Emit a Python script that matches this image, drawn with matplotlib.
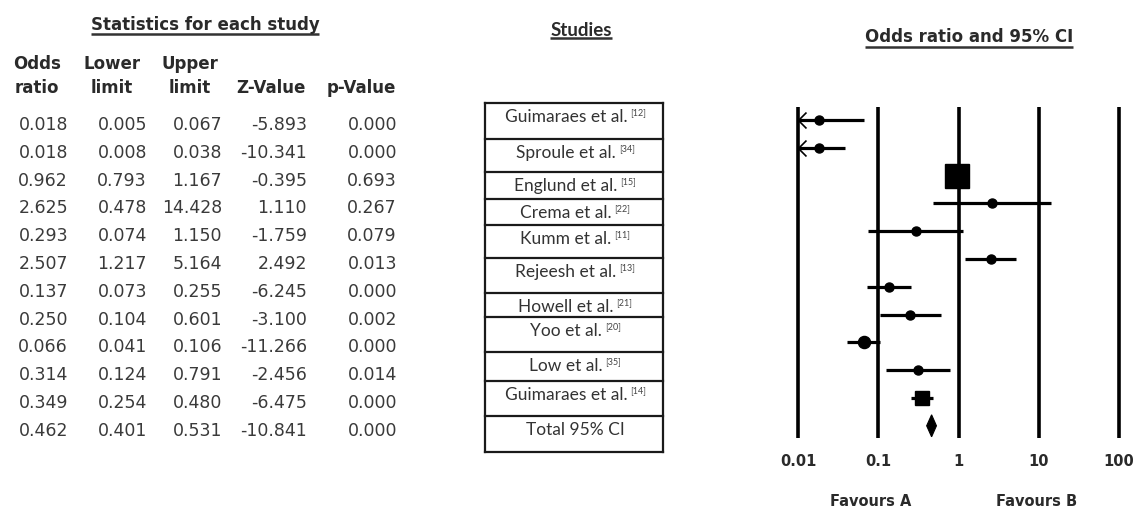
import matplotlib
matplotlib.use('Agg')
import matplotlib.pyplot as plt
from matplotlib.path import Path
import numpy as np

# ---------------- data ----------------
studies = ["Guimaraes et al.", "Sproule et al.", "Englund et al.", "Crema et al.",
           "Kumm et al.", "Rejeesh et al.", "Howell et al.", "Yoo et al.",
           "Low et al.", "Guimaraes et al.", "Total 95% CI"]
refs = ["[12]", "[34]", "[15]", "[22]", "[11]", "[13]", "[21]", "[20]", "[35]", "[14]", ""]

odds = [0.018, 0.018, 0.962, 2.625, 0.293, 2.507, 0.137, 0.250, 0.066, 0.314, 0.349, 0.462]
lower = [0.005, 0.008, 0.793, 0.478, 0.074, 1.217, 0.073, 0.104, 0.041, 0.124, 0.254, 0.401]
upper = [0.067, 0.038, 1.167, 14.428, 1.150, 5.164, 0.255, 0.601, 0.106, 0.791, 0.480, 0.531]
zval = [-5.893, -10.341, -0.395, 1.110, -1.759, 2.492, -6.245, -3.100, -11.266, -2.456, -6.475, -10.841]
pval = [0.000, 0.000, 0.693, 0.267, 0.079, 0.013, 0.000, 0.002, 0.000, 0.014, 0.000, 0.000]
# relative study weights; last row is the pooled estimate
weights = [1, 1, 7, 1, 1, 1, 1, 1, 1.8, 1, 2.4]

x_ticks = [0.01, 0.1, 1, 10, 100]
tick_labels = ["0.01", "0.1", "1", "10", "100"]
col_headers = [("Odds", "ratio"), ("Lower", "limit"), ("Upper", "limit"), ("", "Z-Value"), ("", "p-Value")]

# ---------------- layout ----------------
W, H = 1139, 510
fig = plt.figure(figsize=(W / 100, H / 100), dpi=100)
base = fig.add_axes([0, 0, 1, 1])
base.set_xlim(0, W)
base.set_ylim(H, 0)
base.axis('off')

TXT = '#2a2a2a'
ROW_STEP = 27.8

# ---- statistics table ----
t_title = base.text(205, 25, "Statistics for each study", ha='center', va='center',
                    fontsize=12, fontweight='bold', color=TXT)
col_right = [68, 147, 222, 307, 397]
head_cx = [37, 112, 190, 271, 361]
for (l1, l2), cx in zip(col_headers, head_cx):
    if l1:
        base.text(cx, 64, l1, ha='center', va='center', fontsize=12, fontweight='bold', color=TXT)
    base.text(cx, 88, l2, ha='center', va='center', fontsize=12, fontweight='bold', color=TXT)

for xr, vals in zip(col_right, [odds, lower, upper, zval, pval]):
    for i, v in enumerate(vals):
        base.text(xr, 125 + ROW_STEP * i, f"{v:.3f}", ha='right', va='center',
                  fontsize=12.5, color='#3a3a3a')

# ---- study boxes ----
t_studies = base.text(581, 30, "Studies", ha='center', va='center', fontsize=13.5,
                      fontweight='bold', family='Lato', color=TXT)
box_edges = [104, 140, 173, 200, 226, 259, 294, 318, 353, 382, 417, 453]
bx0, bx1 = 485, 663
base.plot([bx0, bx0], [box_edges[0], box_edges[-1]], color='#1a1a1a', lw=1.6)
base.plot([bx1, bx1], [box_edges[0], box_edges[-1]], color='#1a1a1a', lw=1.6)
for e in box_edges:
    base.plot([bx0, bx1], [e, e], color='#1a1a1a', lw=1.6)
for i, (name, ref) in enumerate(zip(studies, refs)):
    shift = 9 if ref else 0
    t = base.text((bx0 + bx1) / 2 - shift + 1, box_edges[i] + 13.5, name, ha='center', va='center',
                  fontsize=12.5, family='Lato', color='#333333')
    if ref:
        base.annotate(ref, xy=(1, 0.8), xycoords=t, xytext=(2, 0), textcoords='offset points',
                      fontsize=6.5, va='center', ha='left', color='#444444', family='Lato')

# ---- forest plot ----
t_forest = base.text(969, 37, "Odds ratio and 95% CI", ha='center', va='center', fontsize=12,
                     fontweight='bold', color=TXT)
fx0, fx1 = 780, 1137
dec = 80.0
ax = fig.add_axes([fx0 / W, 0, (fx1 - fx0) / W, 1])
ax.set_xscale('log')
ax.set_xlim(10 ** (-2 - (798 - fx0) / dec), 10 ** (2 + (fx1 - 1119) / dec))
ax.set_ylim(H, 0)
ax.axis('off')

ax.vlines(x_ticks, 108, 439, color='k', lw=2.6)
for xv, lab in zip(x_ticks, tick_labels):
    ax.text(xv, 462, lab, ha='center', va='center', fontsize=10.5, fontweight='bold', color=TXT)

xmin_plot = x_ticks[0]
chev = Path([(1, 1), (0, 0), (1, -1)], [Path.MOVETO, Path.LINETO, Path.LINETO])
for i in range(len(weights)):
    y = 121 + ROW_STEP * i
    lo = max(lower[i], xmin_plot)
    ax.plot([lo, upper[i]], [y, y], color='k', lw=2.3, solid_capstyle='butt')
    w = weights[i]
    ax.plot(odds[i], y, marker='s' if w > 2 else 'o', ms=6.5 * np.sqrt(w), color='k')
    if lower[i] < xmin_plot:
        ax.plot(xmin_plot, y, marker=chev, ms=11.5, mfc='none', mec='k', mew=1.2)

# pooled diamond
k = len(odds) - 1
yd = 121 + ROW_STEP * k
ax.fill([lower[k], odds[k], upper[k], odds[k]], [yd, yd - 11, yd, yd + 11], color='k', lw=0.8)

base.text(871, 502, "Favours A", ha='center', va='center', fontsize=10.5, fontweight='bold', color=TXT)
base.text(1037, 502, "Favours B", ha='center', va='center', fontsize=10.5, fontweight='bold', color=TXT)

# ---- underlines ----
fig.canvas.draw()
r = fig.canvas.get_renderer()
inv = base.transData.inverted()


def underline(t, y, lw=1.8):
    bb = t.get_window_extent(r)
    (x0, _), (x1, _) = inv.transform([[bb.x0, bb.y0], [bb.x1, bb.y1]])
    base.plot([x0, x1], [y, y], color='#333333', lw=lw, solid_capstyle='butt')


underline(t_title, 35)
underline(t_studies, 39)
underline(t_forest, 48)

fig.savefig('out.png', dpi=100)
